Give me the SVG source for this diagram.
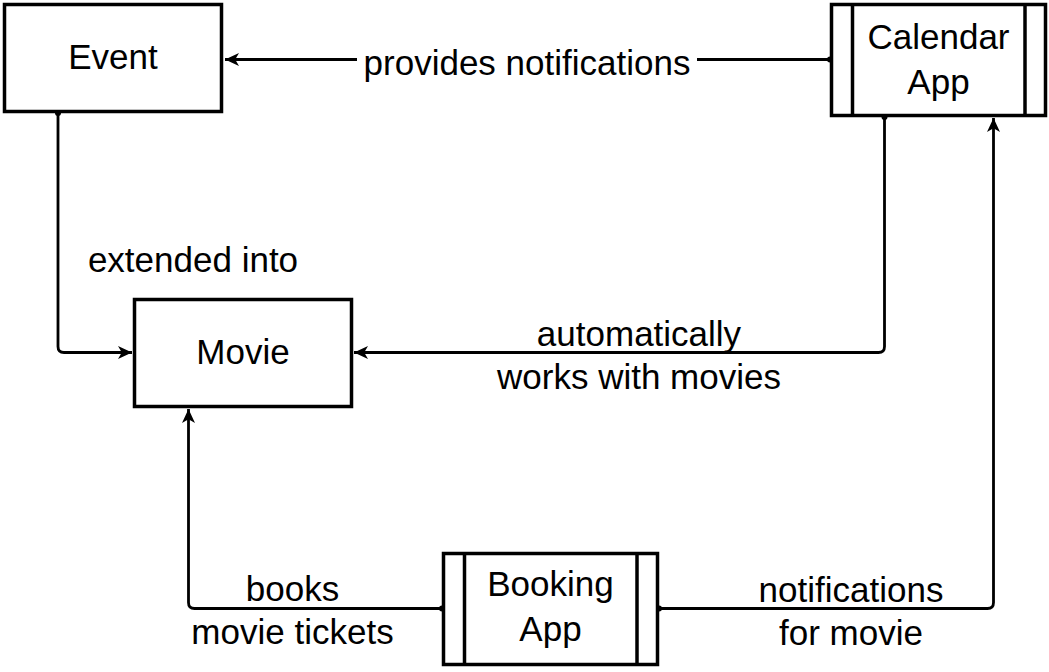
<svg xmlns="http://www.w3.org/2000/svg" width="1049" height="672" viewBox="0 0 1049 672">
<style>
  .box { fill: #ffffff; stroke: #000000; stroke-width: 3.5; }
  .div { stroke: #000000; stroke-width: 3.5; fill: none; }
  .edge { fill: none; stroke: #000000; stroke-width: 2.8; stroke-linejoin: round; }
  .lbl { font-family: "Liberation Sans", Arial, Helvetica, sans-serif; font-size: 35px; fill: #000000; text-anchor: middle; }
</style>
<defs>
  <marker id="arrow" markerUnits="userSpaceOnUse" viewBox="0 0 15 15" refX="14" refY="7.5" markerWidth="15" markerHeight="15" orient="auto">
    <path d="M0,1 L14,7.5 L0,14 L3.8,7.5 Z" fill="#000000"/>
  </marker>
  <marker id="dot" markerUnits="userSpaceOnUse" viewBox="0 0 8 8" refX="4" refY="4" markerWidth="8" markerHeight="8" orient="auto">
    <circle cx="4" cy="4" r="3" fill="#000000"/>
  </marker>
</defs>
<rect width="1049" height="672" fill="#ffffff"/>
<g id="connectors">
  <path class="edge" d="M830,59.5 L225,59.5" marker-start="url(#dot)" marker-end="url(#arrow)"/>
  <path class="edge" d="M58,113 L58,346.5 Q58,352.5 64,352.5 L132,352.5" marker-start="url(#dot)" marker-end="url(#arrow)"/>
  <path class="edge" d="M884.5,117 L884.5,346.5 Q884.5,352.5 878.5,352.5 L354,352.5" marker-start="url(#dot)" marker-end="url(#arrow)"/>
  <path class="edge" d="M442,608.5 L194.5,608.5 Q188.5,608.5 188.5,602.5 L188.5,409" marker-start="url(#dot)" marker-end="url(#arrow)"/>
  <path class="edge" d="M659,608.5 L987.5,608.5 Q993.5,608.5 993.5,602.5 L993.5,118" marker-start="url(#dot)" marker-end="url(#arrow)"/>
  <rect x="357" y="44" width="340" height="38" fill="#ffffff"/>
  <text class="lbl" x="527" y="75">provides notifications</text>
  <text class="lbl" x="193" y="272">extended into</text>
  <text class="lbl" x="639" y="346">automatically</text>
  <text class="lbl" x="639" y="389">works with movies</text>
  <text class="lbl" x="292.5" y="601">books</text>
  <text class="lbl" x="292.5" y="644">movie tickets</text>
  <text class="lbl" x="851" y="602">notifications</text>
  <text class="lbl" x="851" y="645">for movie</text>
</g>
<g id="event">
  <rect class="box" x="4.5" y="4.5" width="217" height="107"/>
  <text class="lbl" x="113" y="69">Event</text>
</g>
<g id="calendar-app">
  <rect class="box" x="831.5" y="4.5" width="214" height="111"/>
  <line class="div" x1="852.5" y1="4.5" x2="852.5" y2="115.5"/>
  <line class="div" x1="1025" y1="4.5" x2="1025" y2="115.5"/>
  <text class="lbl" x="938.5" y="49">Calendar</text>
  <text class="lbl" x="938.5" y="94">App</text>
</g>
<g id="movie">
  <rect class="box" x="134.5" y="299.5" width="217" height="107"/>
  <text class="lbl" x="243" y="364">Movie</text>
</g>
<g id="booking-app">
  <rect class="box" x="443.5" y="553.5" width="214" height="111"/>
  <line class="div" x1="464.5" y1="553.5" x2="464.5" y2="664.5"/>
  <line class="div" x1="637" y1="553.5" x2="637" y2="664.5"/>
  <text class="lbl" x="550.5" y="596">Booking</text>
  <text class="lbl" x="550.5" y="641">App</text>
</g>
</svg>
